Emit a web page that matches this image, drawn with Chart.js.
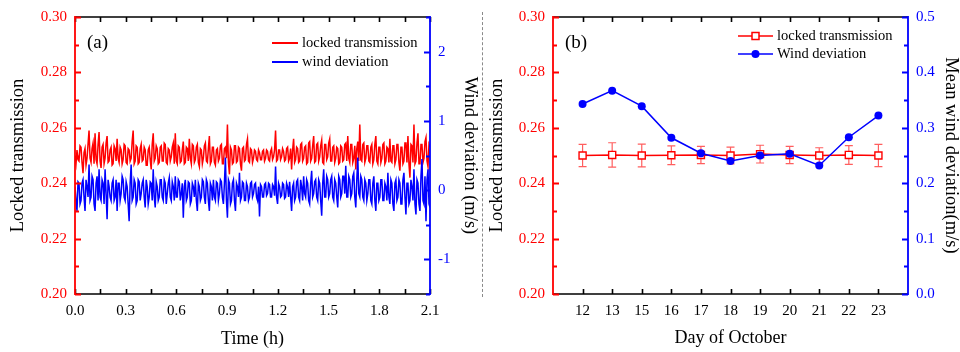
<!DOCTYPE html>
<html>
<head>
<meta charset="utf-8">
<script src="https://cdn.jsdelivr.net/npm/chart.js@4"></script>
<style>
  html, body { margin: 0; padding: 0; background: #fff; }
  #wrap { position: relative; width: 960px; height: 352px; }
  canvas { position: absolute; top: 0; }
  #chartA { left: 0; }
  #chartB { left: 480px; }
  #sep { position: absolute; left: 482px; top: 12px; height: 285px; border-left: 1px dashed #8a8a8a; }
</style>
</head>
<body>
<div id="wrap">
  <canvas id="chartA" width="480" height="352"></canvas>
  <canvas id="chartB" width="480" height="352"></canvas>
  <div id="sep"></div>
</div>
<script>
// ---- panel (a): locked transmission and wind deviation over 2.1 h ----
const traceHours = 2.1;
const lockedTrace = [
  0.2495, 0.2470, 0.2520, 0.2485, 0.2480, 0.2535, 0.2530, 0.2475, 0.2436, 0.2510, 0.2525, 0.2465, 0.2490, 0.2540, 0.2590, 0.2490, 0.2475, 0.2525, 0.2545, 0.2470,
  0.2580, 0.2485, 0.2470, 0.2540, 0.2585, 0.2480, 0.2455, 0.2530, 0.2540, 0.2470, 0.2490, 0.2545, 0.2570, 0.2475, 0.2480, 0.2520, 0.2530, 0.2465, 0.2470, 0.2535,
  0.2525, 0.2480, 0.2560, 0.2490, 0.2475, 0.2530, 0.2520, 0.2470, 0.2485, 0.2540, 0.2535, 0.2475, 0.2470, 0.2525, 0.2520, 0.2480, 0.2490, 0.2550, 0.2590, 0.2470,
  0.2480, 0.2535, 0.2530, 0.2470, 0.2475, 0.2525, 0.2540, 0.2480, 0.2485, 0.2530, 0.2520, 0.2465, 0.2465, 0.2520, 0.2530, 0.2485, 0.2450, 0.2540, 0.2580, 0.2480,
  0.2490, 0.2535, 0.2525, 0.2470, 0.2475, 0.2530, 0.2535, 0.2480, 0.2480, 0.2545, 0.2540, 0.2475, 0.2470, 0.2525, 0.2520, 0.2480, 0.2495, 0.2530, 0.2545, 0.2470,
  0.2580, 0.2480, 0.2470, 0.2535, 0.2530, 0.2475, 0.2480, 0.2520, 0.2550, 0.2470, 0.2475, 0.2530, 0.2525, 0.2480, 0.2560, 0.2490, 0.2470, 0.2540, 0.2535, 0.2475,
  0.2485, 0.2530, 0.2540, 0.2475, 0.2460, 0.2525, 0.2520, 0.2470, 0.2490, 0.2535, 0.2545, 0.2480, 0.2475, 0.2525, 0.2570, 0.2470, 0.2480, 0.2530, 0.2530, 0.2475,
  0.2465, 0.2520, 0.2525, 0.2480, 0.2490, 0.2535, 0.2540, 0.2470, 0.2470, 0.2525, 0.2530, 0.2490, 0.2612, 0.2475, 0.2432, 0.2530, 0.2520, 0.2470, 0.2475, 0.2535,
  0.2535, 0.2475, 0.2480, 0.2530, 0.2525, 0.2470, 0.2445, 0.2525, 0.2530, 0.2480, 0.2485, 0.2540, 0.2560, 0.2480, 0.2475, 0.2525, 0.2520, 0.2475, 0.2490, 0.2520,
  0.2515, 0.2485, 0.2480, 0.2520, 0.2510, 0.2485, 0.2485, 0.2515, 0.2520, 0.2480, 0.2490, 0.2520, 0.2515, 0.2485, 0.2480, 0.2515, 0.2525, 0.2485, 0.2495, 0.2520,
  0.2590, 0.2480, 0.2485, 0.2520, 0.2520, 0.2485, 0.2495, 0.2525, 0.2515, 0.2480, 0.2485, 0.2525, 0.2530, 0.2480, 0.2490, 0.2525, 0.2450, 0.2520, 0.2560, 0.2475,
  0.2485, 0.2530, 0.2525, 0.2475, 0.2480, 0.2540, 0.2545, 0.2480, 0.2490, 0.2530, 0.2535, 0.2470, 0.2475, 0.2545, 0.2550, 0.2480, 0.2490, 0.2535, 0.2570, 0.2475,
  0.2480, 0.2540, 0.2545, 0.2480, 0.2495, 0.2535, 0.2555, 0.2475, 0.2470, 0.2540, 0.2540, 0.2485, 0.2495, 0.2545, 0.2560, 0.2480, 0.2480, 0.2530, 0.2535, 0.2475,
  0.2490, 0.2530, 0.2525, 0.2470, 0.2475, 0.2535, 0.2530, 0.2480, 0.2485, 0.2540, 0.2545, 0.2480, 0.2570, 0.2490, 0.2475, 0.2540, 0.2540, 0.2475, 0.2490, 0.2535,
  0.2450, 0.2525, 0.2550, 0.2480, 0.2612, 0.2485, 0.2480, 0.2540, 0.2545, 0.2475, 0.2490, 0.2535, 0.2535, 0.2480, 0.2475, 0.2530, 0.2540, 0.2470, 0.2485, 0.2540,
  0.2570, 0.2480, 0.2470, 0.2530, 0.2530, 0.2475, 0.2490, 0.2540, 0.2545, 0.2470, 0.2480, 0.2530, 0.2525, 0.2475, 0.2560, 0.2480, 0.2475, 0.2535, 0.2535, 0.2470,
  0.2485, 0.2540, 0.2540, 0.2475, 0.2445, 0.2530, 0.2530, 0.2470, 0.2480, 0.2545, 0.2545, 0.2475, 0.2570, 0.2470, 0.2420, 0.2540, 0.2535, 0.2475, 0.2612, 0.2470,
  0.2480, 0.2545, 0.2580, 0.2470, 0.2470, 0.2540, 0.2540, 0.2475, 0.2490, 0.2550, 0.2565, 0.2480, 0.2460, 0.2540, 0.2530
];
const windTrace = [
  0.05, -0.15, -0.30, 0.12, 0.10, -0.20, -0.15, 0.10, 0.15, -0.10, -0.30, 0.15, 0.05, -0.10, 0.37, -0.15, -0.10, 0.20, 0.15, -0.20,
  -0.30, 0.10, 0.20, -0.15, 0.30, -0.10, -0.15, 0.15, 0.10, -0.20, 0.30, -0.05, -0.42, 0.15, 0.05, -0.10, -0.15, 0.10, 0.15, -0.15,
  -0.10, 0.15, -0.30, 0.10, 0.10, -0.15, -0.05, 0.20, 0.15, -0.10, -0.15, 0.12, 0.05, -0.20, -0.45, 0.10, 0.37, -0.15, -0.10, 0.15,
  0.10, -0.20, -0.15, 0.15, 0.12, -0.15, -0.05, 0.10, 0.15, -0.10, -0.25, 0.15, 0.05, -0.20, -0.10, 0.12, 0.10, -0.15, 0.30, -0.10,
  -0.25, 0.12, 0.05, -0.15, -0.10, 0.15, 0.15, -0.10, -0.15, 0.15, 0.10, -0.20, -0.05, 0.10, 0.18, -0.10, -0.15, 0.12, 0.05, -0.15,
  0.20, -0.10, -0.10, 0.15, 0.12, -0.15, -0.05, 0.10, -0.40, 0.05, 0.15, -0.15, -0.10, 0.12, 0.10, -0.20, -0.15, 0.10, 0.05, -0.10,
  0.15, -0.15, -0.30, 0.10, 0.05, -0.15, -0.10, 0.15, 0.12, -0.10, -0.20, 0.15, 0.10, -0.15, -0.30, 0.10, 0.05, -0.15, 0.15, -0.10,
  -0.15, 0.12, 0.10, -0.15, -0.05, 0.15, 0.12, -0.10, -0.20, 0.10, 0.47, -0.15, -0.40, 0.15, 0.10, -0.20, -0.15, 0.10, 0.15, -0.15,
  -0.30, 0.10, 0.05, -0.10, 0.25, -0.15, -0.10, 0.12, 0.10, -0.15, -0.15, 0.10, 0.05, -0.15, -0.10, 0.10, 0.12, -0.10, -0.05, 0.08,
  0.10, -0.10, -0.15, 0.05, -0.38, 0.08, 0.05, -0.10, -0.10, 0.08, 0.10, -0.08, -0.05, 0.10, 0.08, -0.10, -0.10, 0.08, 0.05, -0.08,
  0.34, -0.10, -0.20, 0.10, 0.05, -0.10, -0.08, 0.10, 0.08, -0.12, -0.10, 0.10, 0.05, -0.10, 0.12, -0.10, -0.30, 0.05, 0.10, -0.15,
  -0.10, 0.12, 0.15, -0.10, -0.15, 0.15, 0.05, -0.15, 0.20, -0.05, -0.10, 0.15, 0.10, -0.15, -0.20, 0.10, 0.28, -0.10, -0.05, 0.12,
  0.15, -0.10, -0.15, 0.15, 0.10, -0.15, -0.37, 0.10, 0.30, -0.10, -0.10, 0.20, 0.15, -0.10, -0.05, 0.15, 0.20, -0.10, -0.15, 0.15,
  0.10, -0.10, -0.25, 0.20, 0.15, -0.10, -0.05, 0.20, 0.20, -0.05, 0.35, -0.10, -0.10, 0.20, 0.15, -0.10, -0.05, 0.20, 0.25, -0.10,
  -0.25, 0.15, 0.47, -0.05, -0.10, 0.20, 0.15, -0.10, -0.15, 0.15, 0.10, -0.15, -0.05, 0.15, 0.15, -0.15, -0.20, 0.10, 0.20, -0.15,
  -0.30, 0.10, 0.10, -0.15, -0.10, 0.15, 0.15, -0.15, -0.15, 0.10, 0.05, -0.15, 0.25, -0.10, -0.20, 0.15, 0.10, -0.20, -0.30, 0.10,
  0.15, -0.15, -0.10, 0.15, 0.10, -0.20, -0.20, 0.15, 0.25, -0.10, -0.35, 0.10, 0.10, -0.20, -0.15, 0.15, 0.05, -0.15, 0.30, -0.20,
  -0.35, 0.15, 0.10, -0.20, -0.30, 0.20, 0.45, -0.15, -0.20, 0.20, -0.45, 0.15, 0.30, -0.20, -0.25
];
const timeTicks = [0, 0.3, 0.6, 0.9, 1.2, 1.5, 1.8, 2.1];
const windTicksA = [-1, 0, 1, 2];

// ---- panel (b): daily means ----
const days = ['12', '13', '15', '16', '17', '18', '19', '20', '21', '22', '23'];
const lockedMean = [0.2500, 0.2502, 0.2500, 0.2501, 0.2502, 0.2500, 0.2505, 0.2502, 0.2500, 0.2502, 0.2500];
const lockedErr = [0.0040, 0.0044, 0.0041, 0.0034, 0.0031, 0.0030, 0.0032, 0.0031, 0.0028, 0.0034, 0.0040];
const windMean = [0.343, 0.367, 0.339, 0.282, 0.254, 0.240, 0.250, 0.253, 0.232, 0.283, 0.322];
const lockedTicks = [0.20, 0.22, 0.24, 0.26, 0.28, 0.30];
const windTicksB = [0, 0.1, 0.2, 0.3, 0.4, 0.5];

const RED = '#ff0000';
const BLUE = '#0000ff';
const SERIF = "'Liberation Serif', 'Times New Roman', serif";

function setTicks(values) {
  return scale => { scale.ticks = values.map(v => ({ value: v })); };
}

// evenly spaced positions, used for the small tick marks
function steps(from, to, step) {
  const out = [];
  for (let v = from; v <= to + step / 1000; v += step) out.push(+v.toFixed(4));
  return out;
}

function yScale(opts) {
  return {
    type: 'linear',
    position: opts.position,
    min: opts.min,
    max: opts.max,
    grid: { display: false, drawTicks: false },
    border: { display: false },
    afterBuildTicks: setTicks(opts.ticks),
    afterFit: s => { s.width = opts.width; },
    ticks: {
      color: opts.color,
      padding: 8,
      font: { family: SERIF, size: 15 },
      callback: opts.format
    },
    title: {
      display: true,
      text: opts.title,
      color: '#000',
      font: { family: SERIF, size: 18.5, lineHeight: 1 },
      padding: { top: opts.titlePad, bottom: 0 }
    }
  };
}

function xScale(opts) {
  return {
    type: 'linear',
    position: 'bottom',
    min: opts.min,
    max: opts.max,
    grid: { display: false, drawTicks: false },
    border: { display: false },
    afterBuildTicks: setTicks(opts.ticks),
    afterFit: s => { s.height = 58; },
    ticks: {
      color: '#000',
      padding: 8,
      maxRotation: 0,
      autoSkip: false,
      font: { family: SERIF, size: 15 },
      callback: opts.format
    },
    title: {
      display: true,
      text: opts.title,
      color: '#000',
      font: { family: SERIF, size: 18, lineHeight: 1 },
      padding: { top: 0, bottom: opts.titlePad }
    }
  };
}

// Frame lines and inward tick marks, plus the panel letter and legend
const frame = {
  id: 'frame',
  afterDraw(chart, args, o) {
    const { ctx, chartArea: a, scales } = chart;
    ctx.save();
    ctx.lineCap = 'butt';

    const mark = (color, width, fn) => {
      ctx.strokeStyle = color;
      ctx.lineWidth = width;
      ctx.beginPath();
      fn();
      ctx.stroke();
    };

    // top and bottom edges, ticks on both
    mark('#000', 1.6, () => {
      ctx.moveTo(a.left, a.top); ctx.lineTo(a.right, a.top);
      ctx.moveTo(a.left, a.bottom); ctx.lineTo(a.right, a.bottom);
      for (const v of o.xTicks) {
        const px = Math.round(scales.x.getPixelForValue(v)) + 0.5;
        ctx.moveTo(px, a.bottom); ctx.lineTo(px, a.bottom - 5);
        ctx.moveTo(px, a.top); ctx.lineTo(px, a.top + 5);
      }
    });
    // left axis (red)
    mark(RED, 1.8, () => {
      ctx.moveTo(a.left, a.top - 1); ctx.lineTo(a.left, a.bottom + 1);
      for (const v of o.yMinor) {
        const py = Math.round(scales.y.getPixelForValue(v)) + 0.5;
        const len = o.yMajor.includes(v) ? 6 : 4;
        ctx.moveTo(a.left, py); ctx.lineTo(a.left + len, py);
      }
    });
    // right axis (blue)
    mark(BLUE, 1.8, () => {
      ctx.moveTo(a.right, a.top - 1); ctx.lineTo(a.right, a.bottom + 1);
      for (const v of o.y2Minor) {
        const py = Math.round(scales.y2.getPixelForValue(v)) + 0.5;
        const len = o.y2Major.includes(v) ? 6 : 4;
        ctx.moveTo(a.right, py); ctx.lineTo(a.right - len, py);
      }
    });

    // panel letter
    ctx.fillStyle = '#000';
    ctx.textBaseline = 'middle';
    ctx.textAlign = 'left';
    ctx.font = `19px ${SERIF}`;
    ctx.fillText(o.letter, a.left + 12, a.top + 26);

    // legend
    ctx.font = `14.5px ${SERIF}`;
    o.legend.forEach((item, i) => {
      const y = o.legendY + i * o.legendGap;
      const x0 = o.legendX;
      mark(item.color, item.marker ? 1.5 : 2, () => {
        ctx.moveTo(x0, y); ctx.lineTo(x0 + o.legendLen, y);
      });
      const cx = x0 + o.legendLen / 2;
      if (item.marker === 'square') {
        ctx.fillStyle = '#fff';
        ctx.fillRect(cx - 3.5, y - 3.5, 7, 7);
        ctx.strokeStyle = item.color;
        ctx.lineWidth = 1.5;
        ctx.strokeRect(cx - 3.5, y - 3.5, 7, 7);
      } else if (item.marker === 'circle') {
        ctx.fillStyle = item.color;
        ctx.beginPath();
        ctx.arc(cx, y, 4, 0, Math.PI * 2);
        ctx.fill();
      }
      ctx.fillStyle = '#000';
      ctx.fillText(item.label, x0 + o.legendLen + 4, y);
    });
    ctx.restore();
  }
};

// Vertical error bars for the daily locked transmission means
const errorBars = {
  id: 'errorBars',
  beforeDatasetsDraw(chart, args, o) {
    if (!o.errors) return;
    const { ctx, scales } = chart;
    ctx.save();
    ctx.strokeStyle = 'rgba(255, 40, 40, 0.75)';
    ctx.lineWidth = 1.2;
    ctx.beginPath();
    o.means.forEach((m, i) => {
      const px = scales.x.getPixelForValue(i + 1);
      const top = scales.y.getPixelForValue(m + o.errors[i]);
      const bot = scales.y.getPixelForValue(m - o.errors[i]);
      ctx.moveTo(px, top); ctx.lineTo(px, bot);
      ctx.moveTo(px - 4, top); ctx.lineTo(px + 4, top);
      ctx.moveTo(px - 4, bot); ctx.lineTo(px + 4, bot);
    });
    ctx.stroke();
    ctx.restore();
  }
};

Chart.register(frame, errorBars);

const sampleX = i => i * traceHours / (lockedTrace.length - 1);

new Chart(document.getElementById('chartA'), {
  type: 'line',
  data: {
    datasets: [
      {
        label: 'wind deviation',
        data: windTrace.map((v, i) => ({ x: sampleX(i), y: v })),
        yAxisID: 'y2',
        borderColor: BLUE,
        borderWidth: 1.5,
        pointRadius: 0,
        order: 0
      },
      {
        label: 'locked transmission',
        data: lockedTrace.map((v, i) => ({ x: sampleX(i), y: v })),
        yAxisID: 'y',
        borderColor: RED,
        borderWidth: 1.5,
        pointRadius: 0,
        order: 1
      }
    ]
  },
  options: {
    responsive: false,
    animation: false,
    parsing: false,
    layout: { padding: { top: 14, left: 0, right: 0, bottom: 0 } },
    scales: {
      x: xScale({ min: 0, max: traceHours, ticks: timeTicks, title: 'Time (h)', titlePad: 4,
                  format: v => v.toFixed(1) }),
      y: yScale({ position: 'left', min: 0.20, max: 0.30, ticks: lockedTicks, color: RED, width: 75,
                  title: 'Locked transmission', titlePad: 8.75, format: v => v.toFixed(2) }),
      y2: yScale({ position: 'right', min: -1.5, max: 2.5, ticks: windTicksA, color: BLUE, width: 50,
                   title: 'Wind deviation (m/s)', titlePad: 0.75, format: v => String(v) })
    },
    plugins: {
      legend: { display: false },
      tooltip: { enabled: false },
      frame: {
        letter: '(a)',
        xTicks: steps(0, 2.1, 0.15),
        yMajor: lockedTicks, yMinor: steps(0.20, 0.30, 0.01),
        y2Major: windTicksA, y2Minor: steps(-1.5, 2.5, 0.5),
        legendX: 272, legendY: 43, legendGap: 19, legendLen: 26,
        legend: [
          { label: 'locked transmission', color: RED },
          { label: 'wind deviation', color: BLUE }
        ]
      },
      errorBars: {}
    }
  }
});

new Chart(document.getElementById('chartB'), {
  type: 'line',
  data: {
    datasets: [
      {
        label: 'Wind deviation',
        data: windMean.map((v, i) => ({ x: i + 1, y: v })),
        yAxisID: 'y2',
        borderColor: BLUE,
        backgroundColor: BLUE,
        borderWidth: 1.5,
        pointRadius: 4,
        pointBorderWidth: 0,
        order: 0
      },
      {
        label: 'locked transmission',
        data: lockedMean.map((v, i) => ({ x: i + 1, y: v })),
        yAxisID: 'y',
        borderColor: RED,
        backgroundColor: '#fff',
        borderWidth: 1.5,
        pointStyle: 'rect',
        pointRadius: 5,
        pointBorderWidth: 1.4,
        order: 1
      }
    ]
  },
  options: {
    responsive: false,
    animation: false,
    parsing: false,
    layout: { padding: { top: 14, left: 0, right: 0, bottom: 0 } },
    scales: {
      x: xScale({ min: 0, max: 12, ticks: days.map((d, i) => i + 1), title: 'Day of October', titlePad: 5,
                  format: v => days[v - 1] }),
      y: yScale({ position: 'left', min: 0.20, max: 0.30, ticks: lockedTicks, color: RED, width: 73,
                  title: 'Locked transmission', titlePad: 7.75, format: v => v.toFixed(2) }),
      y2: yScale({ position: 'right', min: 0, max: 0.5, ticks: windTicksB, color: BLUE, width: 52,
                   title: 'Mean wind deviation(m/s)', titlePad: 0, format: v => v.toFixed(1) })
    },
    plugins: {
      legend: { display: false },
      tooltip: { enabled: false },
      frame: {
        letter: '(b)',
        xTicks: days.map((d, i) => i + 1),
        yMajor: lockedTicks, yMinor: steps(0.20, 0.30, 0.01),
        y2Major: windTicksB, y2Minor: steps(0, 0.5, 0.05),
        legendX: 258, legendY: 36, legendGap: 18, legendLen: 35,
        legend: [
          { label: 'locked transmission', color: RED, marker: 'square' },
          { label: 'Wind deviation', color: BLUE, marker: 'circle' }
        ]
      },
      errorBars: { means: lockedMean, errors: lockedErr }
    }
  }
});
</script>
</body>
</html>
